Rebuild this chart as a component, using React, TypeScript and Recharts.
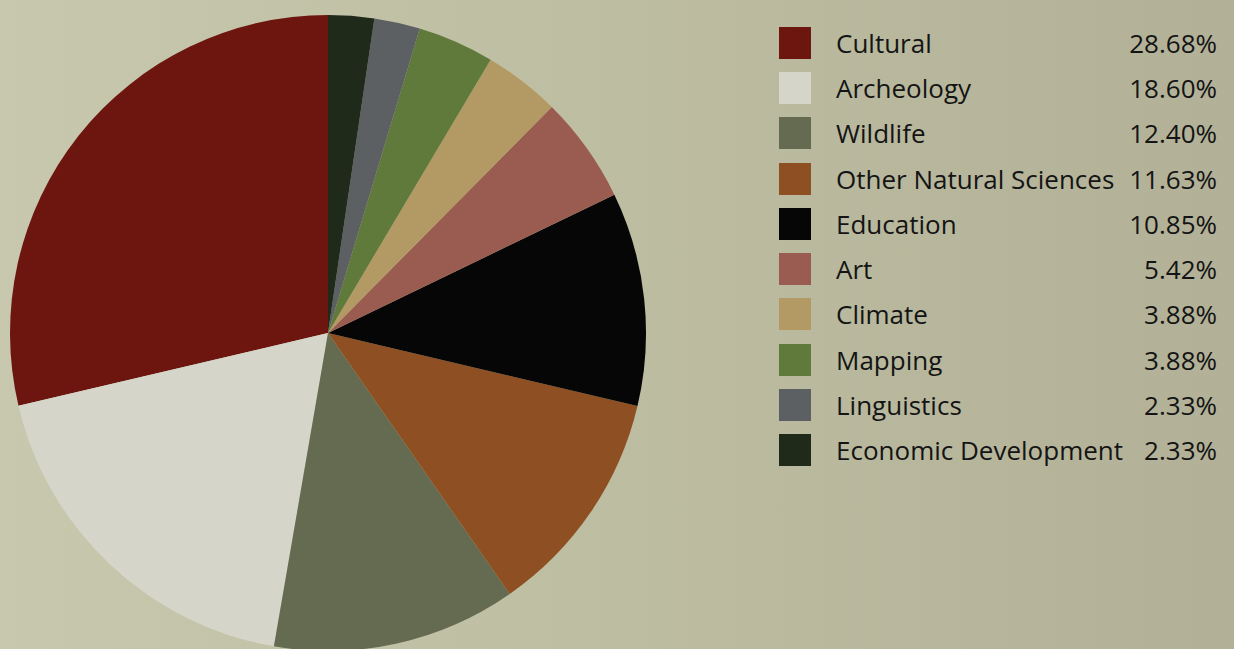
import React from "react";
import { PieChart, Pie, Cell, Legend } from "recharts";

const categories = [
  "Cultural",
  "Archeology",
  "Wildlife",
  "Other Natural Sciences",
  "Education",
  "Art",
  "Climate",
  "Mapping",
  "Linguistics",
  "Economic Development",
];
const shares = [28.68, 18.6, 12.4, 11.63, 10.85, 5.42, 3.88, 3.88, 2.33, 2.33];
const colors = [
  "#6d160f",
  "#d5d5ca",
  "#646b50",
  "#8e4f23",
  "#060606",
  "#9a5c50",
  "#b39a64",
  "#5f7a3a",
  "#5d6062",
  "#1f2a1b",
];

const data = categories.map((name, i) => ({ name, value: shares[i] }));

const LegendContent = () => (
  <div style={{ fontFamily: "'Open Sans', sans-serif", fontSize: 26, color: "#141414" }}>
    {data.map((d, i) => (
      <div
        key={d.name}
        style={{ display: "flex", alignItems: "center", height: 45.3, width: 438 }}
      >
        <div style={{ width: 32, height: 32, background: colors[i], flex: "none" }} />
        <div style={{ marginLeft: 25, flex: 1, whiteSpace: "nowrap" }}>{d.name}</div>
        <div style={{ whiteSpace: "nowrap" }}>{d.value.toFixed(2)}%</div>
      </div>
    ))}
  </div>
);

export default function App() {
  return (
    <div
      style={{
        position: "absolute",
        left: 0,
        top: 0,
        width: 1234,
        height: 649,
        overflow: "hidden",
        background: "linear-gradient(90deg, #c8c8ae 0%, #bebea3 45%, #b2b197 100%)",
      }}
    >
      <PieChart width={1234} height={649} margin={{ top: 0, right: 0, bottom: 0, left: 0 }}>
        <Pie
          data={data}
          dataKey="value"
          nameKey="name"
          cx={328}
          cy={333}
          outerRadius={318}
          startAngle={90}
          endAngle={450}
          stroke="none"
          isAnimationActive={false}
        >
          {data.map((d, i) => (
            <Cell key={d.name} fill={colors[i]} />
          ))}
        </Pie>
        <Legend
          content={<LegendContent />}
          wrapperStyle={{ position: "absolute", left: 779, top: 20, width: 440 }}
        />
      </PieChart>
    </div>
  );
}
